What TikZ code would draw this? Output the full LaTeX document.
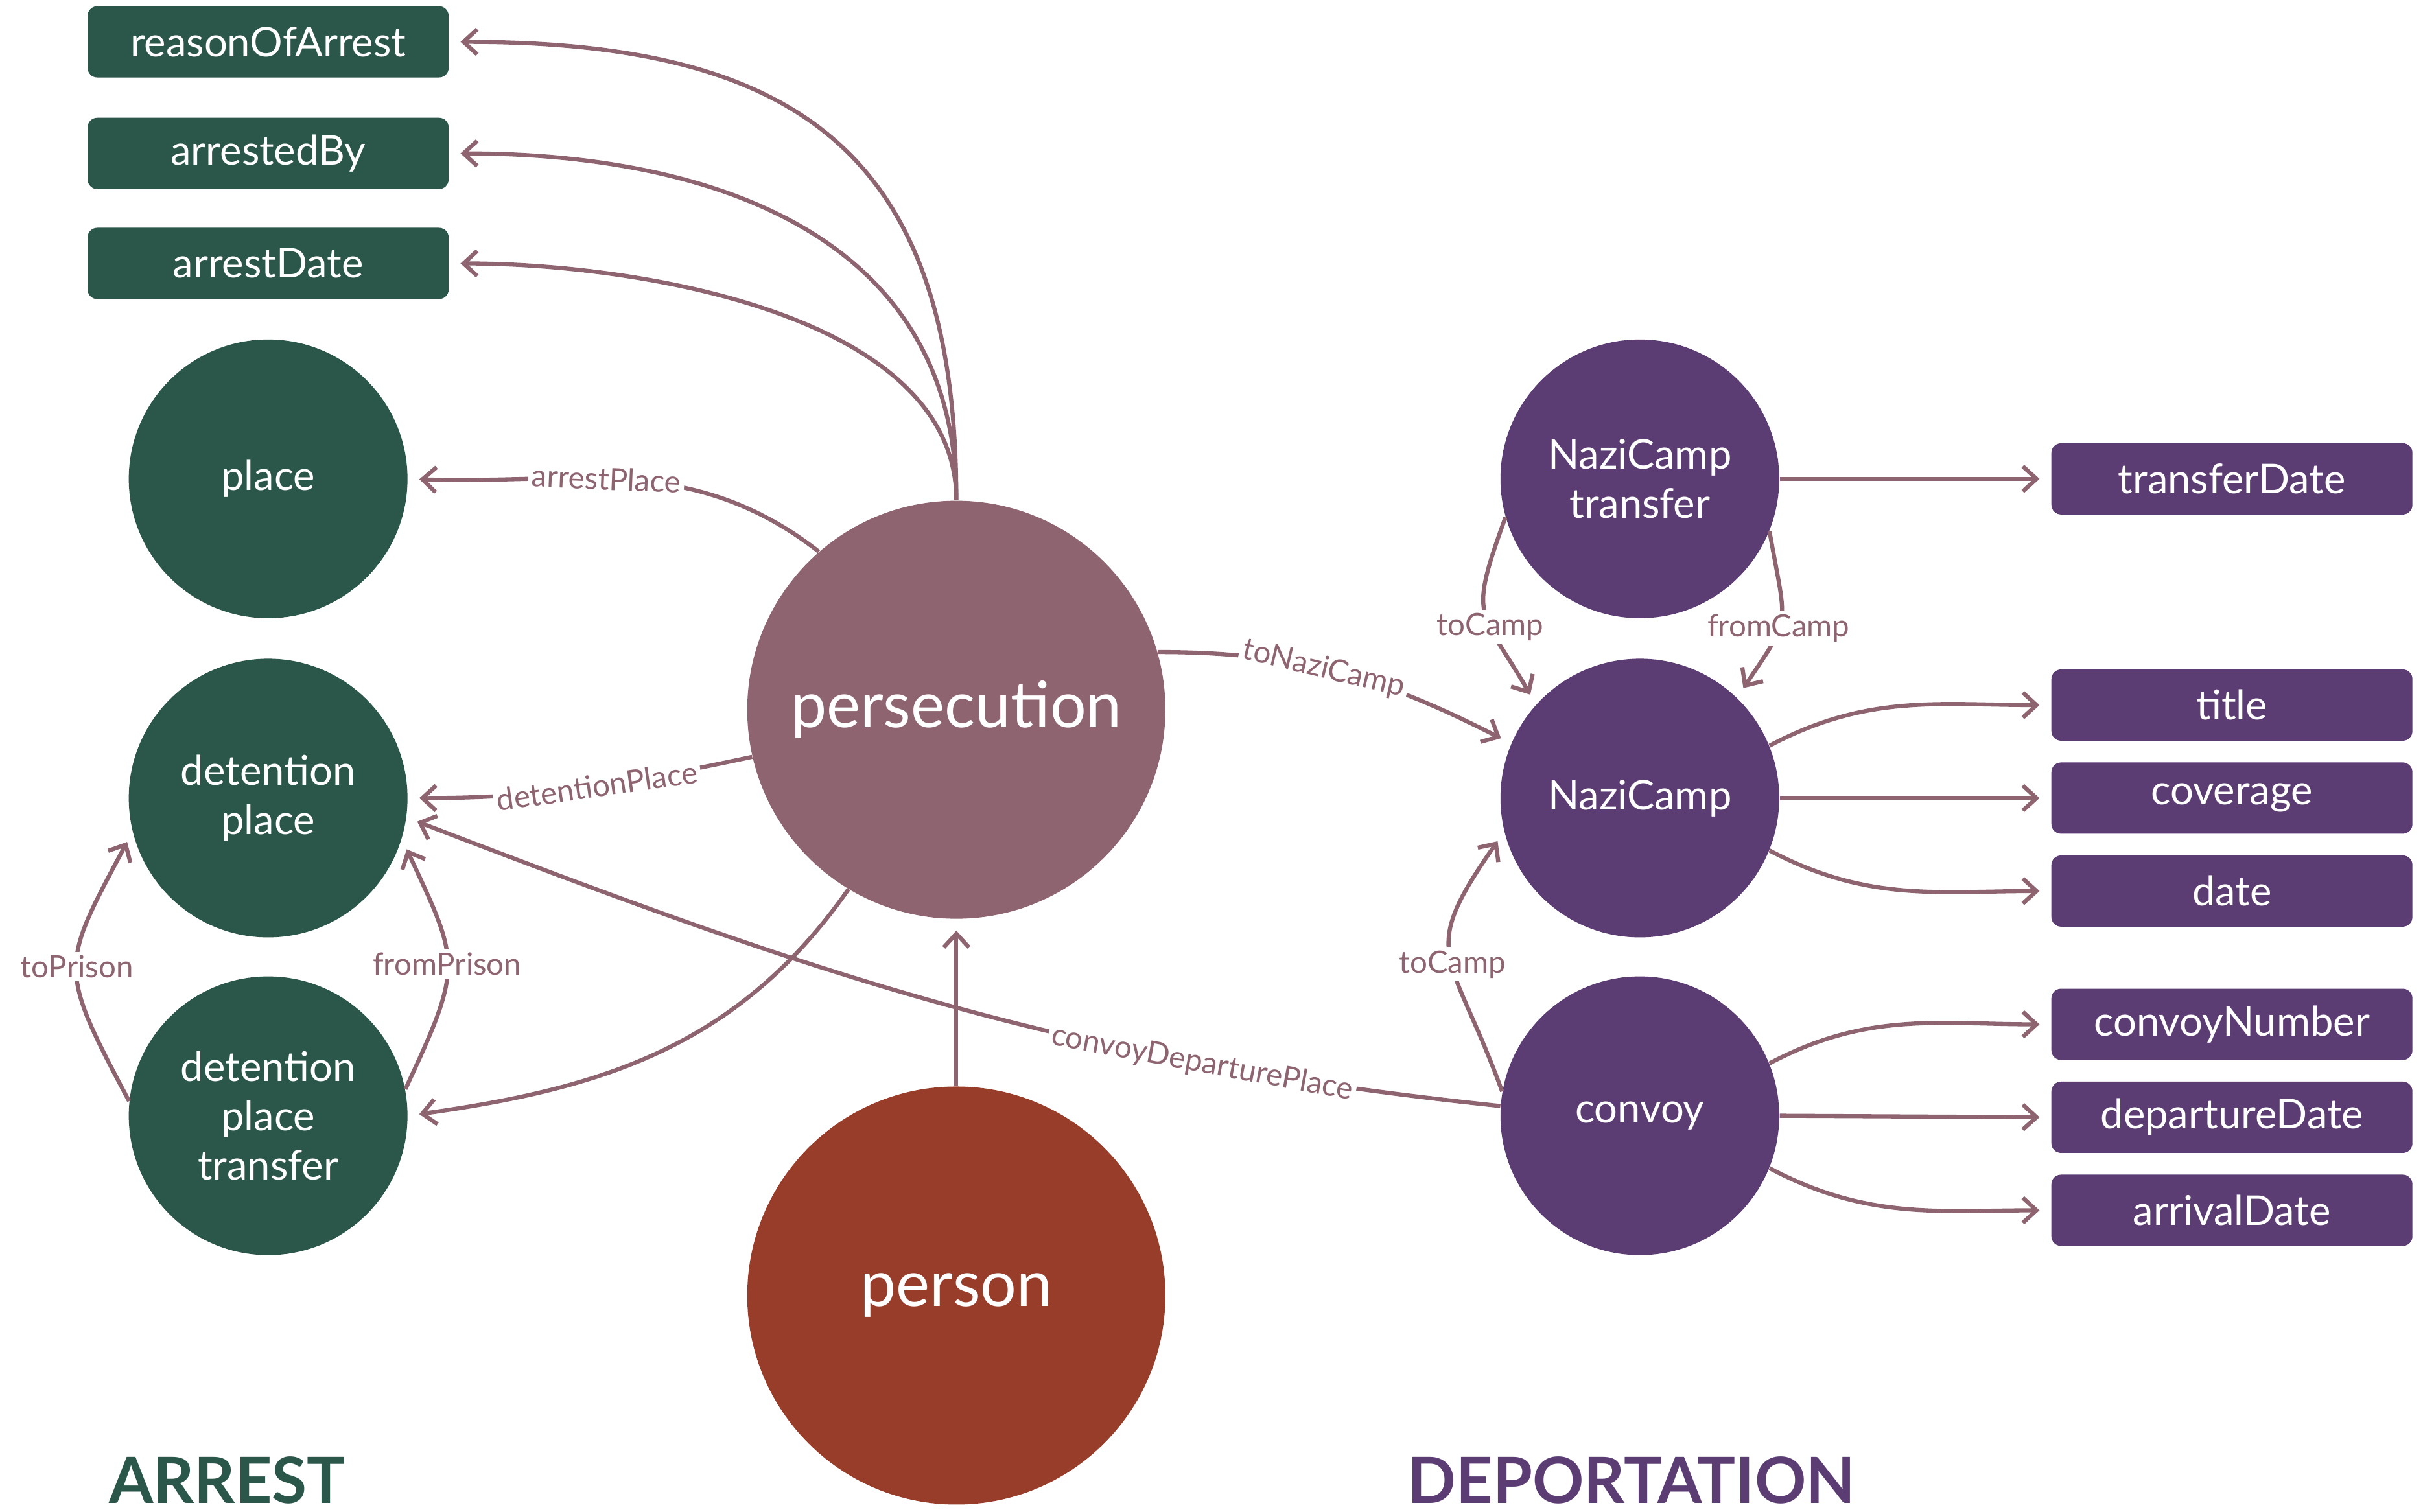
\documentclass[tikz,border=0pt]{standalone}
\usepackage{fontspec}
\setmainfont{Lato}
\usetikzlibrary{arrows.meta}

\definecolor{arrestgreen}{HTML}{2B564A}
\definecolor{persmauve}{HTML}{8D6470}
\definecolor{personred}{HTML}{993D2B}
\definecolor{deppurple}{HTML}{5B3C73}
\definecolor{linkc}{HTML}{8D6470}

\begin{document}
\begin{tikzpicture}[x=0.2391mm, y=0.2391mm,
    Cls/.style={circle, minimum size=43mm, inner sep=0pt, text=white, align=center,
        font=\fontsize{18}{21.7}\selectfont},
    Big/.style={circle, minimum size=64.5mm, inner sep=0pt, text=white,
        font=\fontsize{28}{32}\selectfont},
    Prop/.style={rectangle, rounded corners=1.5mm, minimum width=55.7mm, minimum height=11mm,
        inner sep=0pt, text=white, font=\fontsize{18}{21.7}\selectfont},
    arr/.style={draw=linkc, line width=1.8pt, shorten >=5pt,
        -{Straight Barb[length=6pt,width=11pt,line width=1.8pt]}},
    lbl/.style={fill=white, text=linkc, inner sep=1.5pt, font=\fontsize{13.5}{16}\selectfont},
    part/.style={font=\fontsize{28}{32}\selectfont\bfseries, anchor=base west,
        inner sep=0pt, text depth=0pt}
    ]
\useasboundingbox (0,0) rectangle (1563.3,-975.7);

% arrest
\node[Prop, fill=arrestgreen] (reason) at (173,-27) {reasonOfArrest};
\node[Prop, fill=arrestgreen] (arrestedby) at (173,-99) {arrestedBy};
\node[Prop, fill=arrestgreen] (arrestdate) at (173,-170) {arrestDate};
\node[Cls, fill=arrestgreen] (place) at (173,-309) {place};
\node[Cls, fill=arrestgreen] (dplace) at (173,-515) {detention\\place};
\node[Cls, fill=arrestgreen] (dtransfer) at (173,-720) {detention\\place\\transfer};

% centre
\node[Big, fill=persmauve] (pers) at (617,-458) {persecution};
\node[Big, fill=personred] (person) at (617,-836) {person};

% deportation
\node[Cls, fill=deppurple] (ctransfer) at (1058,-309) {NaziCamp\\transfer};
\node[Cls, fill=deppurple] (camp) at (1058,-515) {NaziCamp};
\node[Cls, fill=deppurple] (convoy) at (1058,-720) {convoy};
\node[Prop, fill=deppurple] (transferdate) at (1440,-309) {transferDate};
\node[Prop, fill=deppurple] (title) at (1440,-455) {title};
\node[Prop, fill=deppurple] (coverage) at (1440,-515) {coverage};
\node[Prop, fill=deppurple] (date) at (1440,-575) {date};
\node[Prop, fill=deppurple] (convoynumber) at (1440,-661) {convoyNumber};
\node[Prop, fill=deppurple] (departuredate) at (1440,-721) {departureDate};
\node[Prop, fill=deppurple] (arrivaldate) at (1440,-781) {arrivalDate};

\node[part, text=arrestgreen] (arrest) at (70,-970) {ARREST};
\node[part, text=deppurple] (deportation) at (908,-970) {DEPORTATION};

% links
\draw[arr] (pers.north) to[out=90, in=0, looseness=1.3] (reason.east);
\draw[arr] (pers.north) to[out=90, in=0, looseness=1.1] (arrestedby.east);
\draw[arr] (pers.north) to[out=90, in=0, looseness=0.85] (arrestdate.east);
\draw[arr] (pers.131) to[out=142, in=-2] node[lbl, sloped, pos=0.55] {arrestPlace} (place.east);
\draw[arr] (pers.193) to[out=192, in=0] node[lbl, sloped, pos=0.45] {detentionPlace} (dplace.east);
\draw[arr] (pers.239) to[out=235, in=8] (dtransfer.east);
\draw[arr] (person.north) -- (pers.south);
\draw[arr] (dtransfer.174) to[out=118, in=242, looseness=1.45] node[lbl] {toPrison} (dplace.194);
\draw[arr] (dtransfer.11) to[out=65, in=-65, looseness=1.4] node[lbl] {fromPrison} (dplace.-17);
\draw[arr] (convoy.176) to[out=174, in=-21] node[lbl, sloped, pos=0.25] {convoyDeparturePlace} (dplace.-8);
\draw[arr] (pers.16) to[out=0, in=153] node[lbl, sloped, pos=0.45] {toNaziCamp} (camp.157);
\draw[arr] (ctransfer.196) to[out=250, in=120, looseness=1.5] node[lbl, pos=0.6] {toCamp} (camp.138);
\draw[arr] (ctransfer.-22) to[out=-80, in=56, looseness=1.5] node[lbl, pos=0.57] {fromCamp} (camp.46);
\draw[arr] (convoy.170) to[out=110, in=235, looseness=1.5] node[lbl, pos=0.45] {toCamp} (camp.194);

\draw[arr] (ctransfer.east) -- (transferdate.west);
\draw[arr] (camp.22) to[out=28, in=180] (title.west);
\draw[arr] (camp.east) -- (coverage.west);
\draw[arr] (camp.-22) to[out=-28, in=180] (date.west);
\draw[arr] (convoy.22) to[out=28, in=180] (convoynumber.west);
\draw[arr] (convoy.east) -- (departuredate.west);
\draw[arr] (convoy.-22) to[out=-28, in=180] (arrivaldate.west);
\end{tikzpicture}
\end{document}
